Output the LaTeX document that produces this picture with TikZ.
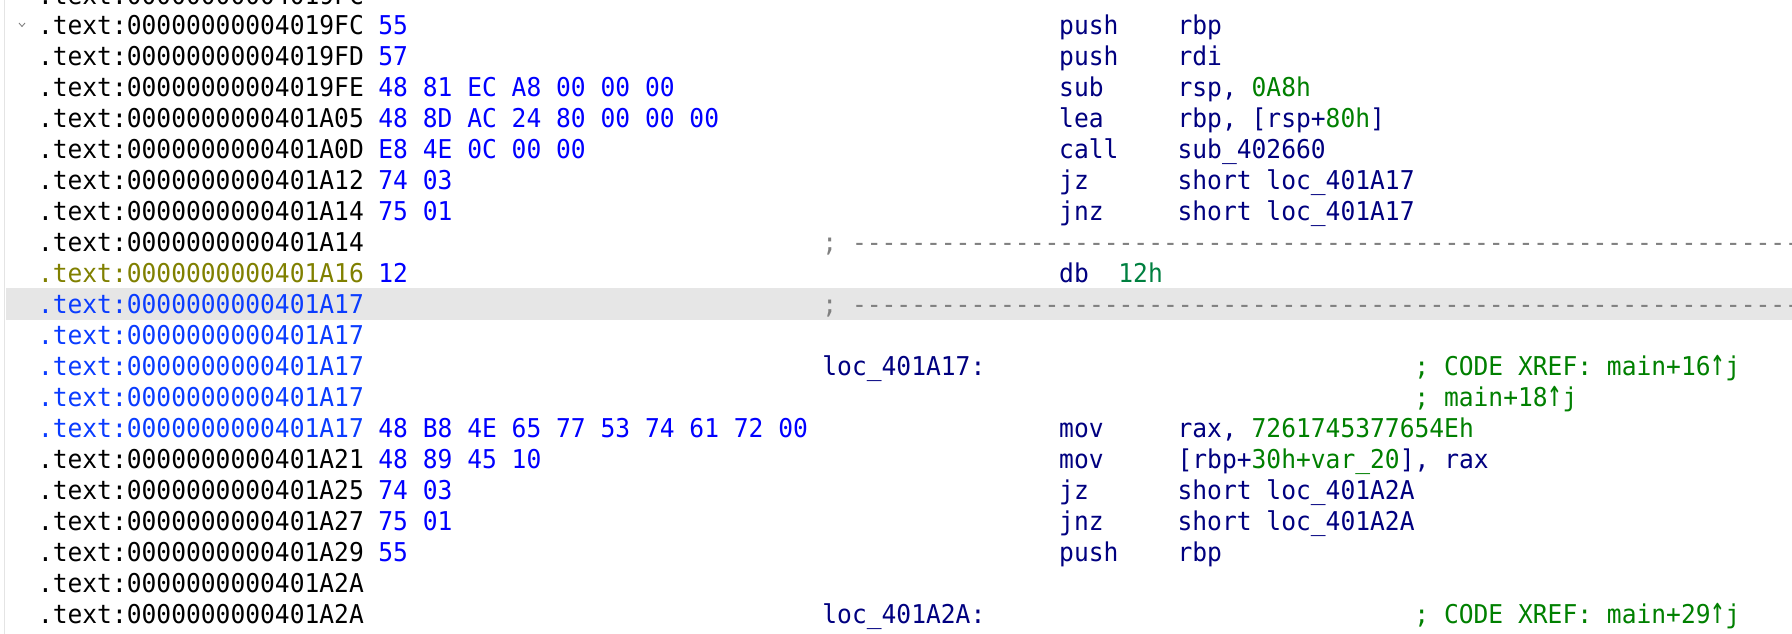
\documentclass[tikz,border=0pt]{standalone}
\usepackage{fontspec}
\usepackage{graphicx}
\setmonofont{DejaVu Sans Mono}[FakeStretch=0.95]
\definecolor{idanavy}{HTML}{000080}
\definecolor{idablue}{HTML}{0000FF}
\definecolor{idaaddr}{HTML}{0A3CFF}
\definecolor{idagreen}{HTML}{008000}
\definecolor{idateal}{HTML}{008040}
\definecolor{idaolive}{HTML}{808000}
\definecolor{idagray}{HTML}{808080}
\definecolor{idaband}{HTML}{E6E6E6}
\definecolor{idaedge}{HTML}{E4E4E4}
\newcommand\idatype{\ttfamily\fontsize{25.9pt}{31pt}\selectfont\frenchspacing}
\newcommand\idacell[5]{\node[#4] (#1) at ({38pt+#2*14.8pt},{634pt-35pt-(#3-1)*30.95pt}) {#5};}
\newcommand\idadashes{----------------------------------------------------------------------}
\newcommand\idag[1]{\textcolor{idagreen}{#1}}
\newcommand\idaup{\scalebox{1}[1.45]{↑}}
\tikzset{
  txt/.style={anchor=base west, inner sep=0pt, outer sep=0pt, font=\idatype},
  addr/.style={txt, text=black},
  addrblue/.style={txt, text=idaaddr},
  addrolive/.style={txt, text=idaolive},
  byte/.style={txt, text=idablue},
  mnem/.style={txt, text=idanavy},
  opnd/.style={txt, text=idanavy},
  lbl/.style={txt, text=idanavy},
  cmt/.style={txt, text=idagreen},
  numteal/.style={txt, text=idateal},
  sep/.style={txt, text=idagray},
}
\begin{document}
\begin{tikzpicture}
\useasboundingbox (0pt,0pt) rectangle (1792pt,634pt);
\clip (0pt,0pt) rectangle (1792pt,634pt);
\fill[white] (0pt,0pt) rectangle (1792pt,634pt);
% left edge and highlighted line
\draw[idaedge, line width=1.5pt] (4.5pt,0pt) -- (4.5pt,634pt);
\fill[idaband] (5.5pt,{634pt-288pt}) rectangle (1792pt,{634pt-320pt});
% collapse caret
\draw[idagray, line width=0.9pt] (19pt,{634pt-23pt}) -- (22pt,{634pt-26.5pt}) -- (25pt,{634pt-23pt});
% row 0 (partly visible)
\idacell{a0}{0}{0}{addr}{.text:00000000004019FC}
% row 1
\idacell{a1}{0}{1}{addr}{.text:00000000004019FC}
\idacell{b1}{23}{1}{byte}{55}
\idacell{m1}{69}{1}{mnem}{push}
\idacell{o1}{77}{1}{opnd}{rbp}
% row 2
\idacell{a2}{0}{2}{addr}{.text:00000000004019FD}
\idacell{b2}{23}{2}{byte}{57}
\idacell{m2}{69}{2}{mnem}{push}
\idacell{o2}{77}{2}{opnd}{rdi}
% row 3
\idacell{a3}{0}{3}{addr}{.text:00000000004019FE}
\idacell{b3}{23}{3}{byte}{48 81 EC A8 00 00 00}
\idacell{m3}{69}{3}{mnem}{sub}
\idacell{o3}{77}{3}{opnd}{rsp, \idag{0A8h}}
% row 4
\idacell{a4}{0}{4}{addr}{.text:0000000000401A05}
\idacell{b4}{23}{4}{byte}{48 8D AC 24 80 00 00 00}
\idacell{m4}{69}{4}{mnem}{lea}
\idacell{o4}{77}{4}{opnd}{rbp, [rsp+\idag{80h}]}
% row 5
\idacell{a5}{0}{5}{addr}{.text:0000000000401A0D}
\idacell{b5}{23}{5}{byte}{E8 4E 0C 00 00}
\idacell{m5}{69}{5}{mnem}{call}
\idacell{o5}{77}{5}{opnd}{sub\_402660}
% row 6
\idacell{a6}{0}{6}{addr}{.text:0000000000401A12}
\idacell{b6}{23}{6}{byte}{74 03}
\idacell{m6}{69}{6}{mnem}{jz}
\idacell{o6}{77}{6}{opnd}{short loc\_401A17}
% row 7
\idacell{a7}{0}{7}{addr}{.text:0000000000401A14}
\idacell{b7}{23}{7}{byte}{75 01}
\idacell{m7}{69}{7}{mnem}{jnz}
\idacell{o7}{77}{7}{opnd}{short loc\_401A17}
% row 8
\idacell{a8}{0}{8}{addr}{.text:0000000000401A14}
\idacell{s8}{53}{8}{sep}{; \idadashes}
% row 9
\idacell{a9}{0}{9}{addrolive}{.text:0000000000401A16}
\idacell{b9}{23}{9}{byte}{12}
\idacell{m9}{69}{9}{mnem}{db}
\idacell{o9}{73}{9}{numteal}{12h}
% row 10 (highlighted)
\idacell{a10}{0}{10}{addrblue}{.text:0000000000401A17}
\idacell{s10}{53}{10}{sep}{; \idadashes}
% row 11
\idacell{a11}{0}{11}{addrblue}{.text:0000000000401A17}
% row 12
\idacell{a12}{0}{12}{addrblue}{.text:0000000000401A17}
\idacell{l12}{53}{12}{lbl}{loc\_401A17:}
\idacell{c12}{93}{12}{cmt}{; CODE XREF: main+16\idaup j}
% row 13
\idacell{a13}{0}{13}{addrblue}{.text:0000000000401A17}
\idacell{c13}{93}{13}{cmt}{; main+18\idaup j}
% row 14
\idacell{a14}{0}{14}{addrblue}{.text:0000000000401A17}
\idacell{b14}{23}{14}{byte}{48 B8 4E 65 77 53 74 61 72 00}
\idacell{m14}{69}{14}{mnem}{mov}
\idacell{o14}{77}{14}{opnd}{rax, \idag{7261745377654Eh}}
% row 15
\idacell{a15}{0}{15}{addr}{.text:0000000000401A21}
\idacell{b15}{23}{15}{byte}{48 89 45 10}
\idacell{m15}{69}{15}{mnem}{mov}
\idacell{o15}{77}{15}{opnd}{[rbp+\idag{30h+var\_20}], rax}
% row 16
\idacell{a16}{0}{16}{addr}{.text:0000000000401A25}
\idacell{b16}{23}{16}{byte}{74 03}
\idacell{m16}{69}{16}{mnem}{jz}
\idacell{o16}{77}{16}{opnd}{short loc\_401A2A}
% row 17
\idacell{a17}{0}{17}{addr}{.text:0000000000401A27}
\idacell{b17}{23}{17}{byte}{75 01}
\idacell{m17}{69}{17}{mnem}{jnz}
\idacell{o17}{77}{17}{opnd}{short loc\_401A2A}
% row 18
\idacell{a18}{0}{18}{addr}{.text:0000000000401A29}
\idacell{b18}{23}{18}{byte}{55}
\idacell{m18}{69}{18}{mnem}{push}
\idacell{o18}{77}{18}{opnd}{rbp}
% row 19
\idacell{a19}{0}{19}{addr}{.text:0000000000401A2A}
% row 20
\idacell{a20}{0}{20}{addr}{.text:0000000000401A2A}
\idacell{l20}{53}{20}{lbl}{loc\_401A2A:}
\idacell{c20}{93}{20}{cmt}{; CODE XREF: main+29\idaup j}
\end{tikzpicture}
\end{document}
